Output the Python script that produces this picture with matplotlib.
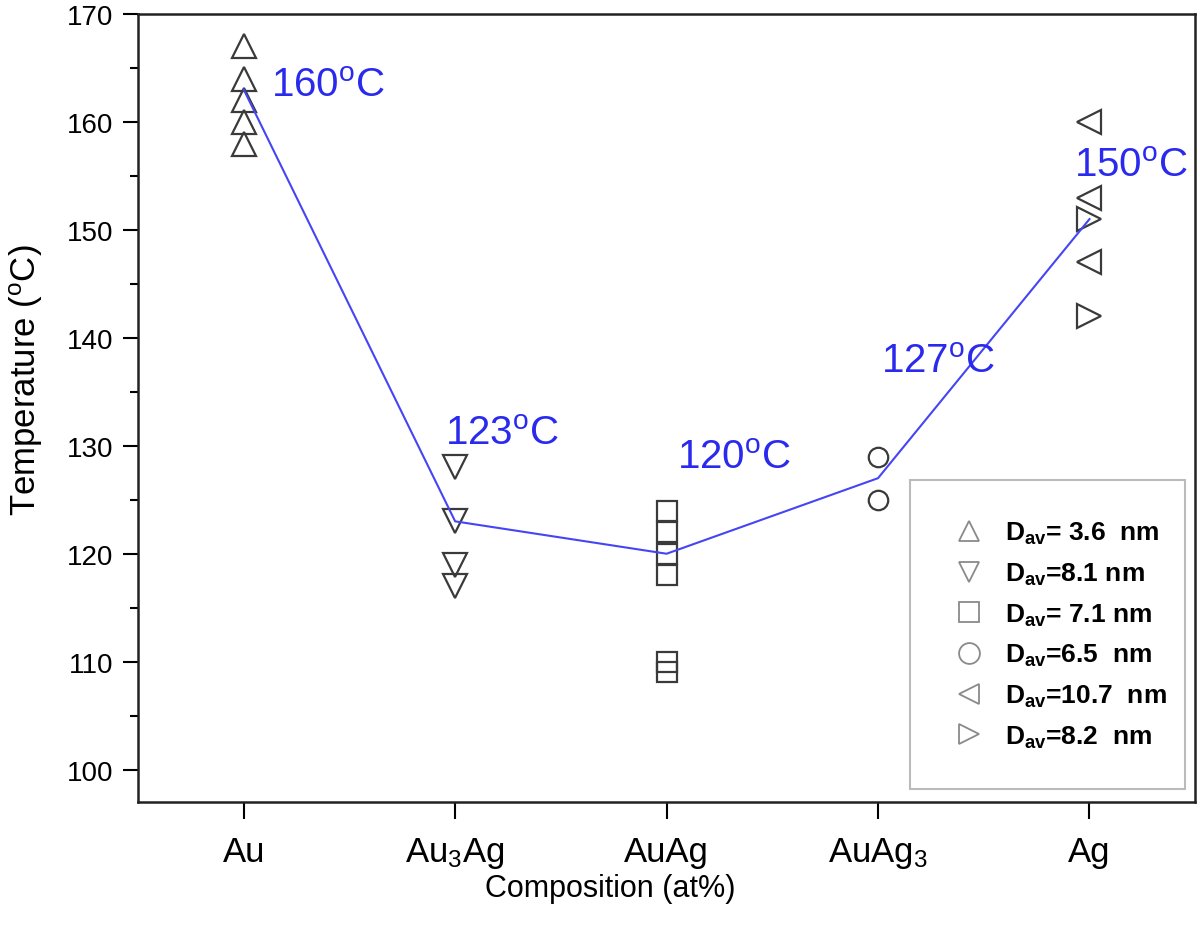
import matplotlib
matplotlib.use("Agg")
import matplotlib.pyplot as plt
from matplotlib.lines import Line2D
from matplotlib.ticker import MultipleLocator

plt.rcParams['font.family'] = ['Liberation Sans', 'DejaVu Sans']
plt.rcParams['mathtext.fontset'] = 'custom'
plt.rcParams['mathtext.rm'] = 'Liberation Sans'
plt.rcParams['mathtext.it'] = 'Liberation Sans:italic'
plt.rcParams['mathtext.bf'] = 'Liberation Sans:bold'

compositions = ['Au', r'Au$_3$Ag', 'AuAg', r'AuAg$_3$', 'Ag']

# measured temperatures per composition
au = [167, 164, 162, 160, 158]
au3ag = [128, 123, 119, 117]
auag = [124, 122, 120, 118, 110, 109]
auag3 = [129, 125]
ag_left = [160, 153, 147]
ag_right = [151, 142]

# mean transition temperature (line)
line_vals = [163, 123, 120, 127, 151]

labels = [r'160$^\mathrm{o}$C', r'123$^\mathrm{o}$C', r'120$^\mathrm{o}$C',
          r'127$^\mathrm{o}$C', r'150$^\mathrm{o}$C']
label_x = [0.127, 0.953, 2.047, 3.014, 3.925]
label_y = [162.4, 130.2, 127.9, 136.85, 155.0]

legend_labels = [r'$\mathbf{D_{av}}$= 3.6  nm', r'$\mathbf{D_{av}}$=8.1 nm',
                 r'$\mathbf{D_{av}}$= 7.1 nm', r'$\mathbf{D_{av}}$=6.5  nm',
                 r'$\mathbf{D_{av}}$=10.7  nm', r'$\mathbf{D_{av}}$=8.2  nm']

fig = plt.figure(figsize=(12, 9.37), dpi=100)
ax = fig.add_axes([0.115, 0.143, 0.881, 0.841])

mk_col = '#3a3a3a'
blue = '#4545f5'

ax.plot(range(len(line_vals)), line_vals, color=blue, lw=1.5, zorder=3)

series = [(0, au, '^', 17), (1, au3ag, 'v', 17), (2, auag, 's', 14),
          (3, auag3, 'o', 14), (4, ag_left, '<', 17), (4, ag_right, '>', 17)]
for xi, vals, m, ms in series:
    ax.plot([xi] * len(vals), vals, ls='none', marker=m, ms=ms,
            mfc='none', mec=mk_col, mew=1.6, zorder=2)

for x, y, t in zip(label_x, label_y, labels):
    ax.text(x, y, t, color='#2a2aee', fontsize=29, ha='left', va='baseline')

ax.set_xlim(-0.5, 4.5)
ax.set_ylim(97, 170)
ax.set_xticks(range(5))
ax.set_xticklabels(compositions, fontsize=25)
ax.set_yticks([100, 110, 120, 130, 140, 150, 160, 170])
ax.yaxis.set_minor_locator(MultipleLocator(5))
ax.tick_params(axis='y', which='major', direction='out', length=11, width=1.5,
               labelsize=20, pad=7)
ax.tick_params(axis='y', which='minor', direction='out', length=6, width=1.5)
ax.tick_params(axis='x', direction='out', length=12, width=1.5, pad=12)
for s in ax.spines.values():
    s.set_linewidth(1.8)
    s.set_color('#222222')

ax.set_xlabel('Composition (at%)', fontsize=22)
ax.set_ylabel(r'Temperature ($^\mathrm{o}$C)', fontsize=25)
ax.xaxis.set_label_coords(0.447, -0.09)
ax.yaxis.set_label_coords(-0.088, 0.537)

leg_col = '#8a8a8a'
handles = [Line2D([], [], ls='none', marker=m, ms=15, mfc='none', mec=leg_col, mew=1.3)
           for m in ['^', 'v', 's', 'o', '<', '>']]
leg = ax.legend(handles, legend_labels, loc='lower left',
                bbox_to_anchor=(0.73, 0.016, 0.26, 0.42), mode='expand',
                prop={'weight': 'bold', 'size': 19}, frameon=True, fancybox=False,
                edgecolor='#aaaaaa', handletextpad=0.6, labelspacing=0.55,
                borderpad=1.5, handlelength=1.5, borderaxespad=0)
leg.get_frame().set_linewidth(1.5)

fig.savefig('out.png', dpi=100)
